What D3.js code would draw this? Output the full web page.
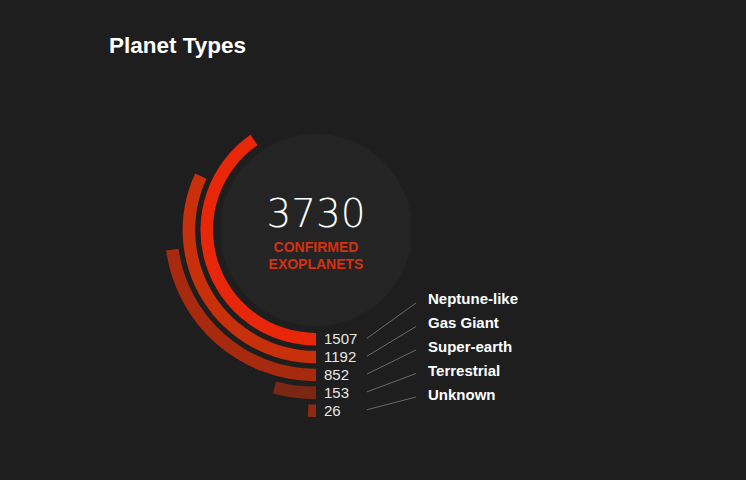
<!DOCTYPE html>
<html>
<head>
<meta charset="utf-8">
<script src="https://cdn.jsdelivr.net/npm/d3@7"></script>
<style>
  body { margin: 0; background: #1e1e1e; }
  svg { display: block; font-family: 'Liberation Sans', Arial, sans-serif; }
</style>
</head>
<body>
<div id="chart"></div>
<script>
// planet types and counts
const types = ['Neptune-like', 'Gas Giant', 'Super-earth', 'Terrestrial', 'Unknown'];
const counts = [1507, 1192, 852, 153, 26];
const colors = ['#e8260a', '#c8300c', '#a82a0e', '#7c2614', '#8c2a14'];
const total = 3730;

const width = 746, height = 480;
const cx = 316, cy = 230;

const svg = d3.select('#chart').append('svg')
    .attr('width', width)
    .attr('height', height);

svg.append('rect').attr('width', width).attr('height', height).attr('fill', '#1e1e1e');

svg.append('text')
    .attr('x', 109).attr('y', 53)
    .attr('fill', '#fff')
    .attr('font-size', 22.5)
    .attr('font-weight', 'bold')
    .text('Planet Types');

const g = svg.append('g').attr('transform', `translate(${cx},${cy})`);

g.append('circle').attr('r', 96).attr('fill', '#242424');

// angle: value as share of all confirmed planets, arcs start at the bottom
const angle = d3.scaleLinear().domain([0, total]).range([0, 2 * Math.PI]);
const ring = d3.scaleBand().domain(types).range([103, 187]).paddingInner(0.3);

const arc = d3.arc()
    .innerRadius(d => ring(d.type))
    .outerRadius(d => ring(d.type) + ring.bandwidth())
    .startAngle(Math.PI)
    .endAngle(d => Math.PI + angle(d.count));

const rows = types.map((t, i) => ({type: t, count: counts[i], color: colors[i]}));

g.selectAll('path.bar')
    .data(rows)
    .join('path')
    .attr('class', 'bar')
    .attr('d', arc)
    .attr('fill', d => d.color);

// value labels at the end of each bar
g.selectAll('text.val')
    .data(rows)
    .join('text')
    .attr('class', 'val')
    .attr('x', 8)
    .attr('y', d => ring(d.type) + ring.bandwidth() / 2 + 5)
    .attr('fill', '#e6e6e6')
    .attr('font-size', 15)
    .attr('font-weight', 300)
    .text(d => d.count);

// leader lines
g.selectAll('line.lead')
    .data(rows)
    .join('line')
    .attr('class', 'lead')
    .attr('x1', 51)
    .attr('y1', d => ring(d.type) + ring.bandwidth() / 2 - 1)
    .attr('x2', 100)
    .attr('y2', (d, i) => 73 + i * 23.5)
    .attr('stroke', '#6a6a6a')
    .attr('stroke-width', 1);

g.selectAll('text.name')
    .data(rows)
    .join('text')
    .attr('class', 'name')
    .attr('x', 112)
    .attr('y', (d, i) => 74 + i * 24)
    .attr('fill', '#fff')
    .attr('font-size', 15)
    .attr('font-weight', 'bold')
    .text(d => d.type);

// centre total
g.append('text')
    .attr('text-anchor', 'middle')
    .attr('y', -3)
    .attr('fill', '#fff')
    .attr('font-size', 39)
    .attr('font-family', "'DejaVu Sans', sans-serif")
    .attr('font-weight', 200)
    .text(d3.sum(counts));

g.append('text')
    .attr('text-anchor', 'middle')
    .attr('y', 22)
    .attr('fill', '#d5300f')
    .attr('font-size', 14)
    .attr('font-weight', 'bold')
    .text('CONFIRMED');

g.append('text')
    .attr('text-anchor', 'middle')
    .attr('y', 39)
    .attr('fill', '#d5300f')
    .attr('font-size', 14)
    .attr('font-weight', 'bold')
    .text('EXOPLANETS');
</script>
</body>
</html>
